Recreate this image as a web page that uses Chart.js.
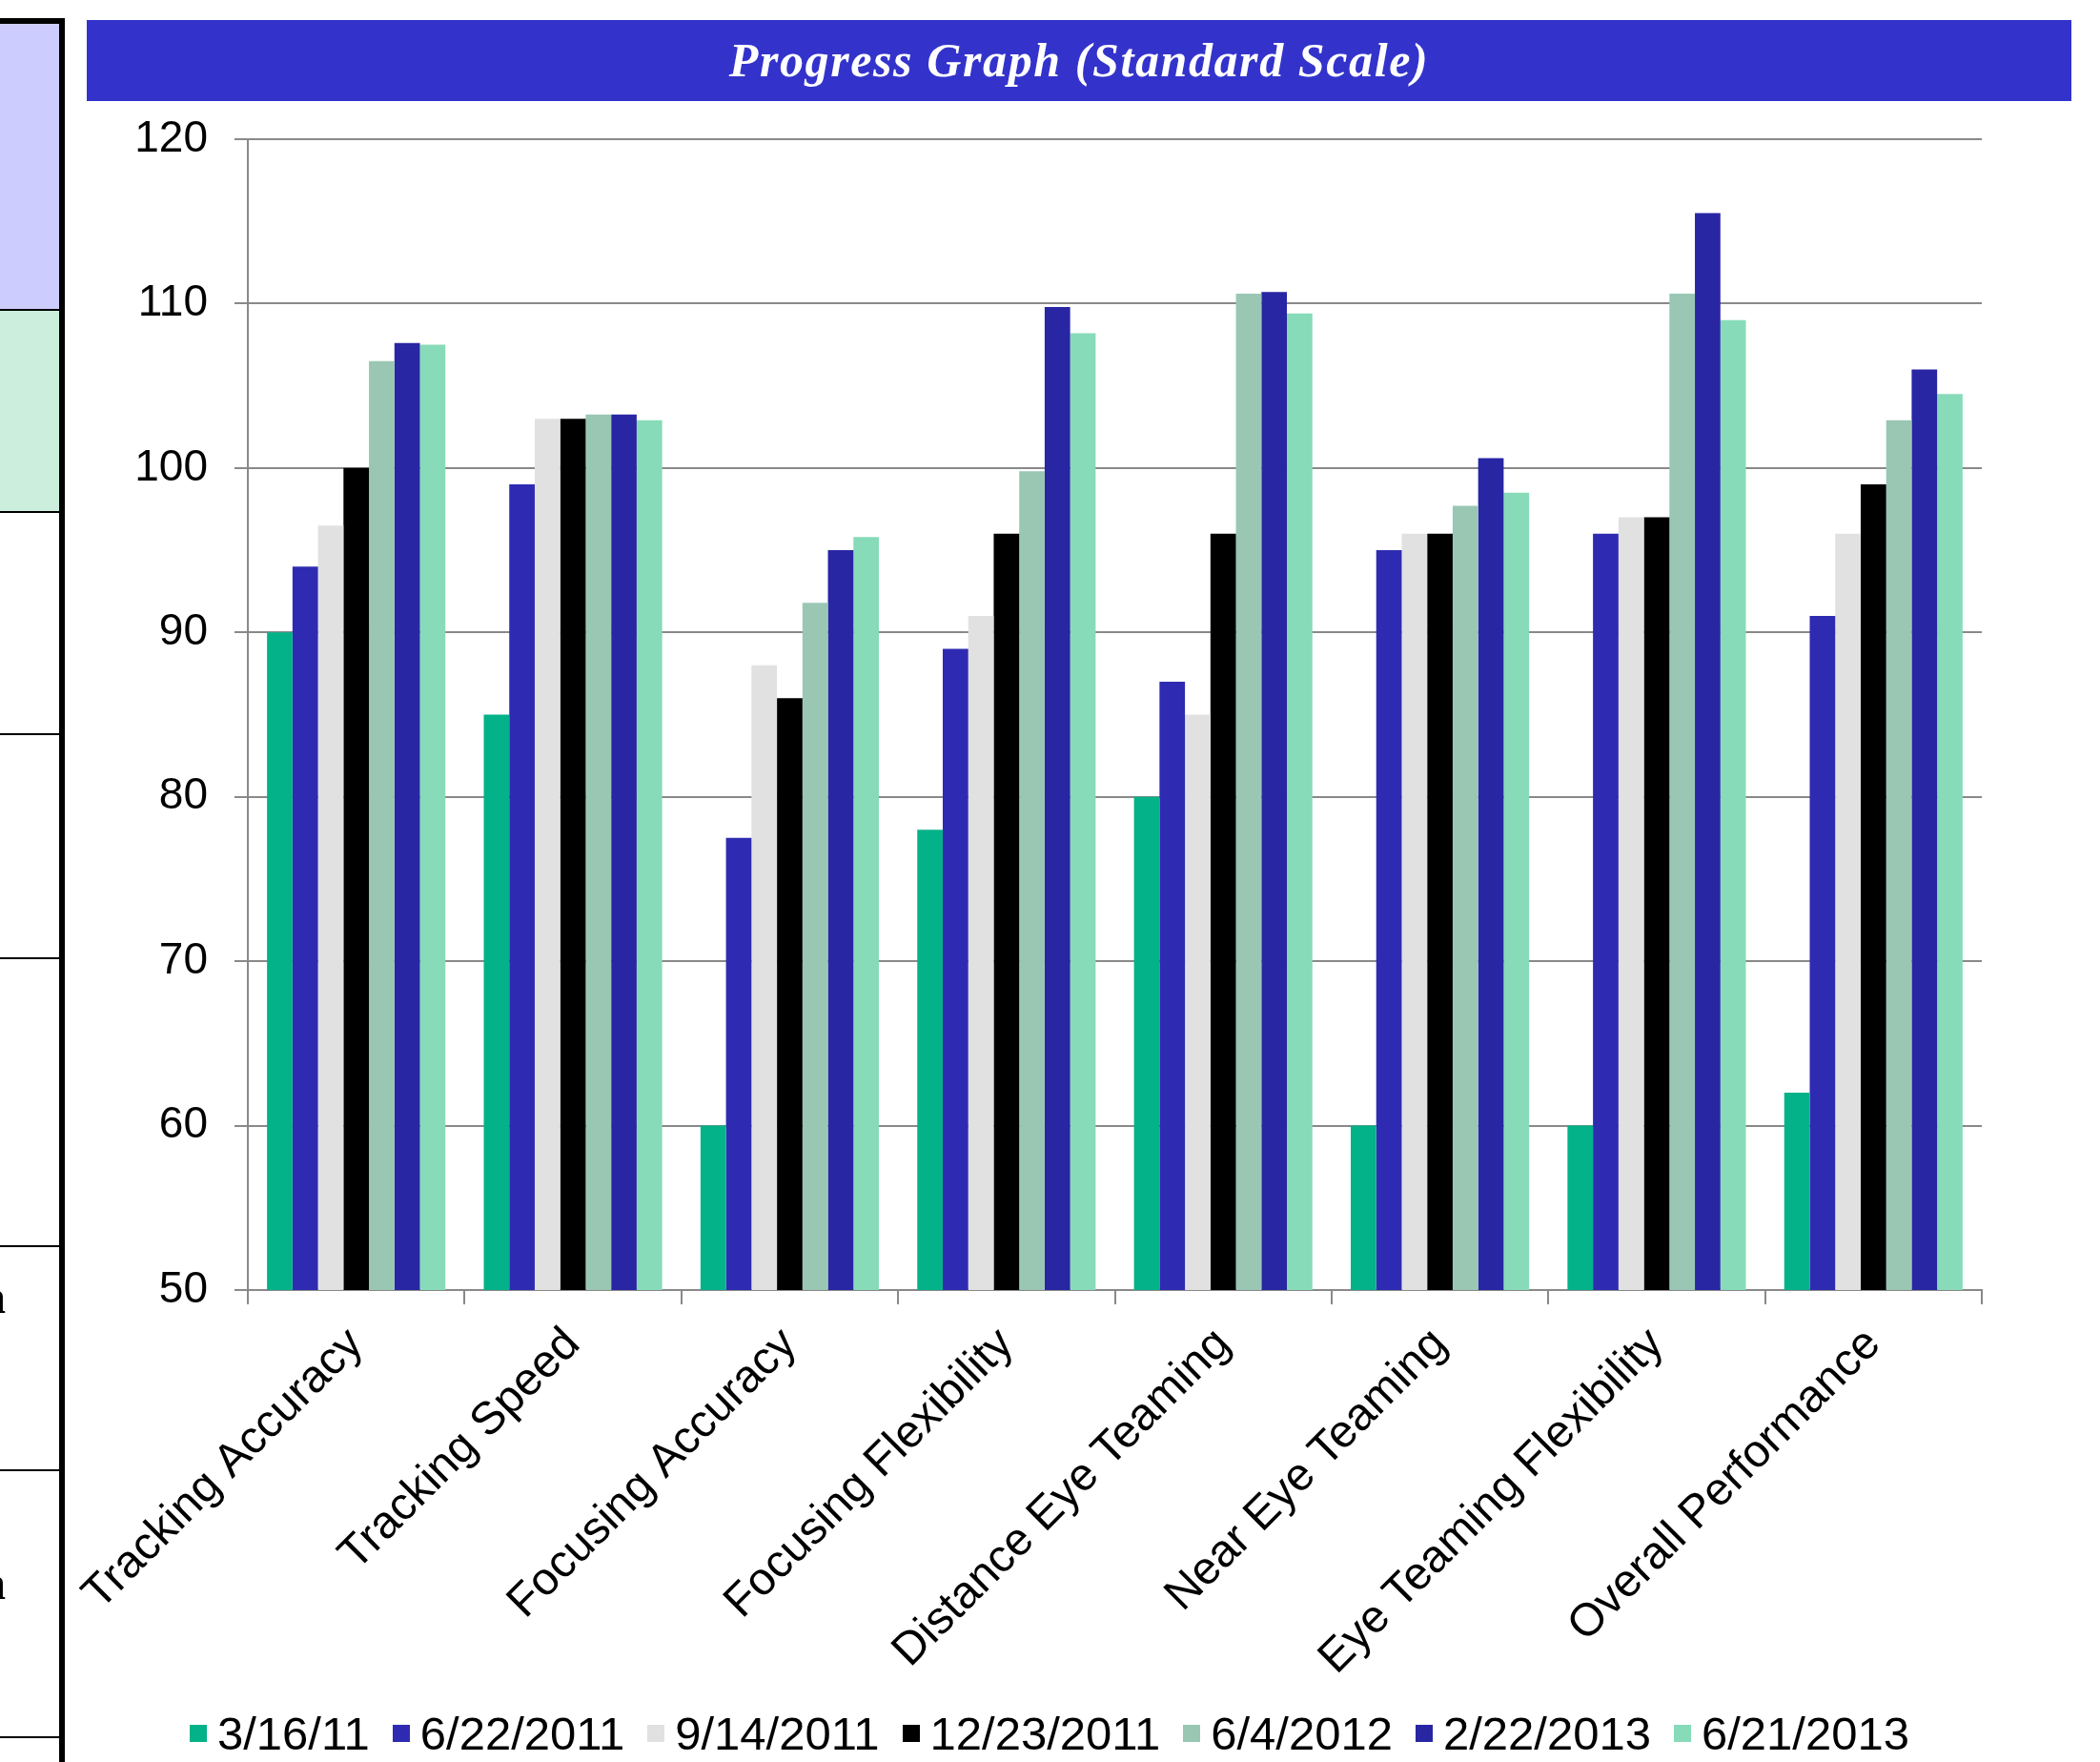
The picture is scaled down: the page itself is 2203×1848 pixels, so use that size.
<!DOCTYPE html>
<html lang="en">
<head>
<meta charset="utf-8">
<title>Progress Graph (Standard Scale)</title>
<script src="https://cdn.jsdelivr.net/npm/chart.js@4.4.1/dist/chart.umd.min.js"></script>
<style>
  body { margin: 0; width: 2203px; height: 1848px; background: #fff; position: relative; overflow: hidden;
         font-family: "Liberation Sans", Arial, sans-serif; }
  .blk { position: absolute; background: #000; }
  .fill { position: absolute; left: 0; width: 62px; }
  .cut { position: absolute; left: -19px; font: bold 50px "Liberation Serif", serif; color: #000; line-height: 50px; }
  #title { position: absolute; left: 91px; top: 21px; width: 2082px; height: 85px; background: #3333cc;
           color: #fff; text-align: center; font: italic bold 50px "Liberation Serif", serif;
           line-height: 85px; letter-spacing: 1.6px; }
  #chart { position: absolute; left: 0; top: 0; }
  #legend { position: absolute; left: 199px; top: 1788px; height: 60px; display: flex; align-items: center;
            font-size: 49px; color: #000; white-space: nowrap; }
  #legend .sw { width: 18px; height: 18px; margin-right: 11px; }
  #legend .it { display: flex; align-items: center; margin-right: 24px; }
</style>
</head>
<body>
  <!-- left side panel (cut off part of a table) -->
  <div class="fill" style="top:25px;height:299px;background:#ccccff"></div>
  <div class="fill" style="top:326px;height:210px;background:#cceedd"></div>
  <div class="blk" style="left:0;top:19px;width:68px;height:6px"></div>
  <div class="blk" style="left:62px;top:19px;width:6px;height:1829px"></div>
  <div class="blk" style="left:0;top:324px;width:62px;height:2px"></div>
  <div class="blk" style="left:0;top:536px;width:62px;height:2px"></div>
  <div class="blk" style="left:0;top:769px;width:62px;height:2px"></div>
  <div class="blk" style="left:0;top:1004px;width:62px;height:2px"></div>
  <div class="blk" style="left:0;top:1306px;width:62px;height:2px"></div>
  <div class="blk" style="left:0;top:1541px;width:62px;height:2px"></div>
  <div class="blk" style="left:0;top:1821px;width:62px;height:2px"></div>
  <div class="cut" style="top:1335px">a</div>
  <div class="cut" style="top:1635px">a</div>

  <div id="title">Progress Graph (Standard Scale)</div>
  <canvas id="chart" width="2203" height="1848"></canvas>
  <div id="legend"></div>

<script>
const categories = ['Tracking Accuracy', 'Tracking Speed', 'Focusing Accuracy', 'Focusing Flexibility',
                    'Distance Eye Teaming', 'Near Eye Teaming', 'Eye Teaming Flexibility', 'Overall Performance'];
const testDates = ['3/16/11', '6/22/2011', '9/14/2011', '12/23/2011', '6/4/2012', '2/22/2013', '6/21/2013'];

// one array per test date, values in category order
const test1 = [90, 85, 60, 78, 80, 60, 60, 62];
const test2 = [94, 99, 77.5, 89, 87, 95, 96, 91];
const test3 = [96.5, 103, 88, 91, 85, 96, 97, 96];
const test4 = [100, 103, 86, 96, 96, 96, 97, 99];
const test5 = [106.5, 103.25, 91.8, 99.8, 110.6, 97.7, 110.6, 102.9];
const test6 = [107.6, 103.25, 95, 109.8, 110.7, 100.6, 115.5, 106];
const test7 = [107.5, 102.9, 95.8, 108.2, 109.4, 98.5, 109, 104.5];

const yMin = 50, yMax = 120, yStep = 10;
const colors = ['#03b288', '#2e2bb2', '#e1e1e1', '#000000', '#99c7b4', '#2826a3', '#87dbb8'];

const series = [test1, test2, test3, test4, test5, test6, test7];
const gridColor = '#898989';

Chart.defaults.font.family = "'Liberation Sans', Arial, sans-serif";

const ctx = document.getElementById('chart').getContext('2d');
const myChart = new Chart(ctx, {
  type: 'bar',
  data: {
    labels: categories,
    datasets: series.map((vals, i) => ({
      label: testDates[i],
      data: vals,
      backgroundColor: colors[i],
      borderWidth: 0,
      barPercentage: 1.0,
      categoryPercentage: 0.823
    }))
  },
  options: {
    responsive: false,
    animation: false,
    devicePixelRatio: 1,
    layout: { padding: { left: 142, top: 146, right: 124, bottom: 75 } },
    plugins: { legend: { display: false }, tooltip: { enabled: false } },
    scales: {
      x: {
        grid: { drawOnChartArea: false, tickLength: 15, color: gridColor, lineWidth: 2, offset: true },
        border: { color: gridColor, width: 2 },
        ticks: { font: { size: 48 }, color: '#000', minRotation: 45, maxRotation: 45, autoSkip: false, padding: 14 },
        afterFit: s => { s.height = 420; }
      },
      y: {
        min: yMin,
        max: yMax,
        ticks: { stepSize: yStep, font: { size: 46 }, color: '#000', padding: 28 },
        grid: { color: gridColor, lineWidth: 2, tickLength: 14 },
        border: { color: gridColor, width: 2 },
        afterFit: s => { s.width = 118; }
      }
    }
  }
});

// legend under the chart
const legend = document.getElementById('legend');
testDates.forEach((d, i) => {
  const it = document.createElement('div');
  it.className = 'it';
  it.innerHTML = '<div class="sw" style="background:' + colors[i] + '"></div><span>' + d + '</span>';
  legend.appendChild(it);
});
</script>
</body>
</html>
